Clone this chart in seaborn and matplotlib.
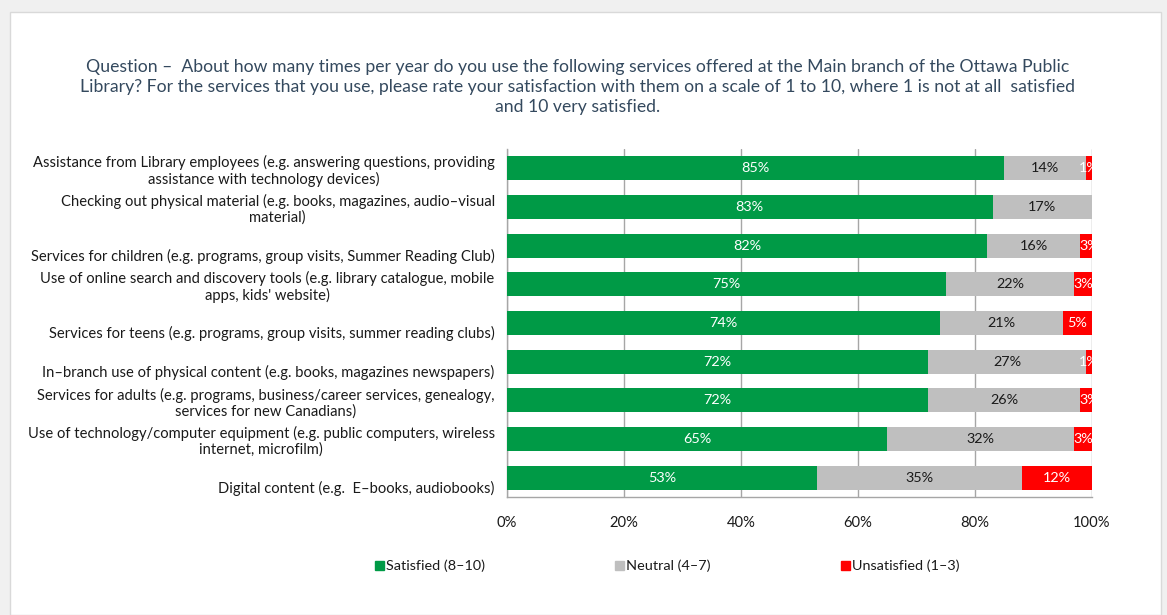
import matplotlib
matplotlib.use("Agg")
import matplotlib.pyplot as plt
import matplotlib.patches as mpatches
import numpy as np
import pandas as pd
import seaborn as sns

categories = [
    "Assistance from Library employees (e.g. answering questions, providing\nassistance with technology devices)",
    "Checking out physical material (e.g. books, magazines, audio–visual\nmaterial)",
    "Services for children (e.g. programs, group visits, Summer Reading Club)",
    "Use of online search and discovery tools (e.g. library catalogue, mobile\napps, kids' website)",
    "Services for teens (e.g. programs, group visits, summer reading clubs)",
    "In–branch use of physical content (e.g. books, magazines newspapers)",
    "Services for adults (e.g. programs, business/career services, genealogy,\nservices for new Canadians)",
    "Use of technology/computer equipment (e.g. public computers, wireless\ninternet, microfilm)",
    "Digital content (e.g.  E–books, audiobooks)",
]
satisfied = [85, 83, 82, 75, 74, 72, 72, 65, 53]
neutral = [14, 17, 16, 22, 21, 27, 26, 32, 35]
unsatisfied = [1, 0, 3, 3, 5, 1, 3, 3, 12]
series_names = ["Satisfied (8–10)", "Neutral (4–7)", "Unsatisfied (1–3)"]
x_ticks = [0, 20, 40, 60, 80, 100]
title = ("Question –  About how many times per year do you use the following services offered at the Main branch of the Ottawa Public\n"
         "Library? For the services that you use, please rate your satisfaction with them on a scale of 1 to 10, where 1 is not at all  satisfied\n"
         "and 10 very satisfied.")

GREEN, GREY, RED = "#009A46", "#BFBFBF", "#FF0000"
TEXT = "#1a1a1a"

sns.set_theme(style="white")
plt.rcParams["font.family"] = ["Lato", "DejaVu Sans"]

df = pd.DataFrame({
    "cat": categories,
    "sat": satisfied,
    "neu": neutral,
    "uns": unsatisfied,
})
df["cum_neu"] = df["sat"] + df["neu"]
df["cum_uns"] = df["cum_neu"] + df["uns"]

fig = plt.figure(figsize=(11.67, 6.15), dpi=100, facecolor="#f0f0f0")
W, H = 1167, 615
# white card behind the chart
fig.patches.append(mpatches.Rectangle((10 / W, 0), 1151 / W, 603 / H,
                                      transform=fig.transFigure, facecolor="white",
                                      edgecolor="#d9d9d9", lw=1, zorder=-5))

ax = fig.add_axes([507 / W, 1 - 497 / H, 585 / W, (497 - 149) / H])
ax.set_facecolor("none")

bar_h = 0.62
# stacked bars drawn as cumulative totals, back to front
for col, color in [("cum_uns", RED), ("cum_neu", GREY), ("sat", GREEN)]:
    sns.barplot(data=df, y="cat", x=col, orient="h", color=color, width=bar_h,
                saturation=1, ax=ax, edgecolor="none", zorder=3)

ax.set_xlim(0, 100)
ax.set_ylim(len(categories) - 0.5, -0.5)
ax.set_xlabel("")
ax.set_ylabel("")

ax.set_xticks(x_ticks)
ax.set_xticklabels([f"{t}%" for t in x_ticks], fontsize=10.6, color=TEXT)
ax.tick_params(axis="x", direction="out", length=6, width=1, color="#a6a6a6", pad=8)
ax.xaxis.grid(True, color="#a6a6a6", lw=1)
ax.set_axisbelow(True)

ax.set_yticks(np.arange(-0.5, len(categories) + 0.5, 1))
ax.set_yticklabels([])
ax.tick_params(axis="y", direction="out", length=5, width=1, color="#a6a6a6")

for s in ["top", "right"]:
    ax.spines[s].set_visible(False)
for s in ["left", "bottom"]:
    ax.spines[s].set_color("#a6a6a6")
    ax.spines[s].set_linewidth(1)

# category labels, bottom-aligned inside each band
for i, c in enumerate(categories):
    ax.text(-0.021, i + 0.47, c, transform=ax.get_yaxis_transform(), ha="right",
            va="bottom", multialignment="center", fontsize=10.6, color=TEXT,
            linespacing=1.12)

# value labels
for i in range(len(categories)):
    s, n, u = satisfied[i], neutral[i], unsatisfied[i]
    ax.text(s / 2, i, f"{s}%", ha="center", va="center", color="white",
            fontsize=10.4, zorder=5)
    if n:
        ax.text(s + n / 2, i, f"{n}%", ha="center", va="center", color=TEXT,
                fontsize=10.4, zorder=5)
    if u:
        ax.text(s + n + u / 2, i, f"{u}%", ha="center", va="center",
                color="white", fontsize=10.4, zorder=5, clip_on=True)

fig.text(578 / W, 1 - 87 / H, title, ha="center", va="center", fontsize=12.7,
         color="#34495E", linespacing=1.28)

handles = [mpatches.Patch(color=c) for c in (GREEN, GREY, RED)]
fig.legend(handles, series_names, loc="center", bbox_to_anchor=(667 / W, 1 - 566 / H),
           ncol=3, frameon=False, fontsize=10.4, handlelength=0.62, handleheight=0.62,
           handletextpad=0.15, columnspacing=9.0, labelcolor=TEXT)

fig.savefig("out.png", dpi=100, facecolor=fig.get_facecolor())
